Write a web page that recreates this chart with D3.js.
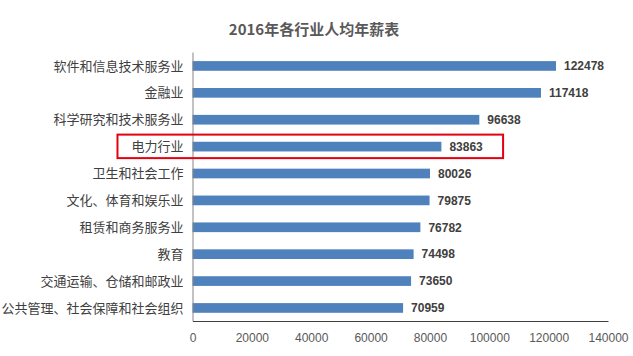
<!DOCTYPE html>
<html><head><meta charset="utf-8">
<script src="https://cdn.jsdelivr.net/npm/d3@7"></script>
<style>
html,body{margin:0;padding:0;background:#fff;}
svg{display:block;}
</style></head>
<body>
<svg id="chart" width="633" height="356"></svg>
<script>
const title = "2016年各行业人均年薪表";
const categories = ["软件和信息技术服务业","金融业","科学研究和技术服务业","电力行业","卫生和社会工作","文化、体育和娱乐业","租赁和商务服务业","教育","交通运输、仓储和邮政业","公共管理、社会保障和社会组织"];
const values = [122478,117418,96638,83863,80026,79875,76782,74498,73650,70959];
const tickValues = [0,20000,40000,60000,80000,100000,120000,140000];
const highlight = "电力行业";

const svg = d3.select("#chart");
const cjk = "'Noto Sans CJK SC','Noto Sans',sans-serif";
const latin = "'Liberation Sans','Noto Sans',sans-serif";

const x = d3.scaleLinear().domain([0,140000]).range([192.5,608]);
const y = d3.scaleBand().domain(categories).range([52.5,321.4]).paddingInner(0.64).paddingOuter(0.32);

// title
svg.append("text").attr("x",314).attr("y",34.5).attr("text-anchor","middle")
  .attr("font-family",cjk).attr("font-weight","bold").attr("font-size",15).attr("fill","#595959")
  .text(title);

// bars
svg.selectAll("rect.bar").data(categories).enter().append("rect").attr("class","bar")
  .attr("x",x(0)).attr("y",d=>y(d)).attr("height",y.bandwidth())
  .attr("width",(d,i)=>x(values[i])-x(0)).attr("fill","#4F81BD");

// value labels
const vals = svg.selectAll("text.val").data(categories).enter().append("text").attr("class","val")
  .attr("x",(d,i)=>x(values[i])+8).attr("y",d=>y(d)+y.bandwidth()/2).attr("dy","0.36em")
  .attr("font-family",latin).attr("font-weight","bold").attr("font-size",12).attr("fill","#404040")
  .text((d,i)=>values[i]);

// y axis
const yAxis = svg.append("g").attr("transform",`translate(${x(0)},0)`)
  .call(d3.axisLeft(y).tickSize(0).tickPadding(9));
yAxis.select(".domain").attr("stroke","#868686").attr("d",`M0.5,52.5V321.4`);
yAxis.selectAll("text").attr("font-family",cjk).attr("font-size",13).attr("fill","#404040").attr("dy","0.35em");

// x axis
const xAxis = svg.append("g").attr("transform","translate(0,321)")
  .call(d3.axisBottom(x).tickValues(tickValues).tickSize(0).tickPadding(12).tickFormat(d3.format("d")));
xAxis.select(".domain").attr("stroke","#404040");
xAxis.selectAll("text").attr("font-family",latin).attr("font-size",12).attr("fill","#595959");

// highlight box
const lbl = yAxis.selectAll(".tick").filter(d=>d===highlight).select("text").node().getBBox();
const vb = vals.filter(d=>d===highlight).node().getBBox();
const cy = y(highlight)+y.bandwidth()/2;
const x0 = x(0) + lbl.x - 14;
const x1 = vb.x + vb.width + 20;
svg.append("rect").attr("x",x0).attr("y",cy-12).attr("width",x1-x0).attr("height",23.5)
  .attr("fill","none").attr("stroke","#E3000F").attr("stroke-width",2);
</script>
</body></html>
